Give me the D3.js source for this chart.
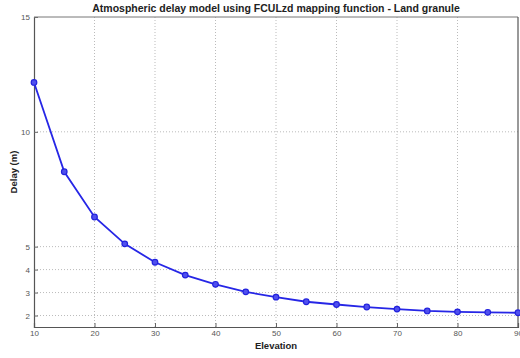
<!DOCTYPE html>
<html>
<head>
<meta charset="utf-8">
<script src="https://cdn.jsdelivr.net/npm/d3@7"></script>
<style>
  body { margin: 0; background: #fff; }
  text { font-family: "Liberation Sans", Arial, sans-serif; }
</style>
</head>
<body>
<div id="chart"></div>
<script>
const elevation = [10, 15, 20, 25, 30, 35, 40, 45, 50, 55, 60, 65, 70, 75, 80, 85, 90]
const delay = [12.15, 8.26, 6.29, 5.12, 4.32, 3.76, 3.36, 3.03, 2.8, 2.6, 2.48, 2.37, 2.28, 2.2, 2.16, 2.14, 2.12]
const xTicks = [10, 20, 30, 40, 50, 60, 70, 80, 90]
const yTicks = [2, 3, 4, 5, 10, 15]

const width = 520
const height = 358
const margin = { top: 17, right: 2, bottom: 31, left: 34 }

const svg = d3.select("#chart")
  .append("svg")
  .attr("width", width)
  .attr("height", height)

const x = d3.scaleLinear().domain([10, 90]).range([margin.left, width - margin.right])
const y = d3.scaleLinear().domain([1.5, 15]).range([height - margin.bottom, margin.top])

// grid
svg.append("g")
  .selectAll("line")
  .data(xTicks.slice(1, -1))
  .join("line")
  .attr("x1", d => x(d)).attr("x2", d => x(d))
  .attr("y1", y(15)).attr("y2", y(1.5))
  .attr("stroke", "#bbb")
  .attr("stroke-dasharray", "1,2")

svg.append("g")
  .selectAll("line")
  .data(yTicks.slice(0, -1))
  .join("line")
  .attr("x1", x(10)).attr("x2", x(90))
  .attr("y1", d => y(d)).attr("y2", d => y(d))
  .attr("stroke", "#bbb")
  .attr("stroke-dasharray", "1,2")

// axes
const xAxis = svg.append("g")
  .attr("transform", `translate(0,${y(1.5)})`)
  .call(d3.axisBottom(x).tickValues(xTicks).tickSize(-4).tickPadding(3))
const yAxis = svg.append("g")
  .attr("transform", `translate(${x(10)},0)`)
  .call(d3.axisLeft(y).tickValues(yTicks).tickSize(-4).tickPadding(4))

for (const ax of [xAxis, yAxis]) {
  ax.selectAll("text").attr("font-size", 8).attr("fill", "#555")
  ax.selectAll("line").attr("stroke", "#666")
  ax.select(".domain").attr("stroke", "#555").attr("stroke-width", 1.2)
}

// top and right border
svg.append("line")
  .attr("x1", x(10)).attr("x2", x(90))
  .attr("y1", y(15)).attr("y2", y(15))
  .attr("stroke", "#777")
svg.append("line")
  .attr("x1", x(90)).attr("x2", x(90))
  .attr("y1", y(15)).attr("y2", y(1.5))
  .attr("stroke", "#555").attr("stroke-width", 1.2)

// series
const points = elevation.map((e, i) => [e, delay[i]])
svg.append("path")
  .datum(points)
  .attr("fill", "none")
  .attr("stroke", "#2626e6")
  .attr("stroke-width", 1.8)
  .attr("d", d3.line().x(d => x(d[0])).y(d => y(d[1])))

svg.append("g")
  .selectAll("circle")
  .data(points)
  .join("circle")
  .attr("cx", d => x(d[0]))
  .attr("cy", d => y(d[1]))
  .attr("r", 2.8)
  .attr("fill", "#5050ee")
  .attr("stroke", "#2222dd")
  .attr("stroke-width", 1.2)

// labels
svg.append("text")
  .attr("x", (x(10) + x(90)) / 2)
  .attr("y", 12)
  .attr("text-anchor", "middle")
  .attr("font-size", 10.5)
  .attr("font-weight", "bold")
  .attr("fill", "#222")
  .text("Atmospheric delay model using FCULzd mapping function - Land granule")

svg.append("text")
  .attr("x", (x(10) + x(90)) / 2)
  .attr("y", 349)
  .attr("text-anchor", "middle")
  .attr("font-size", 9.5)
  .attr("font-weight", "bold")
  .attr("fill", "#222")
  .text("Elevation")

svg.append("text")
  .attr("transform", `translate(17,${(y(15) + y(1.5)) / 2}) rotate(-90)`)
  .attr("text-anchor", "middle")
  .attr("font-size", 9.5)
  .attr("font-weight", "bold")
  .attr("fill", "#222")
  .text("Delay (m)")
</script>
</body>
</html>
